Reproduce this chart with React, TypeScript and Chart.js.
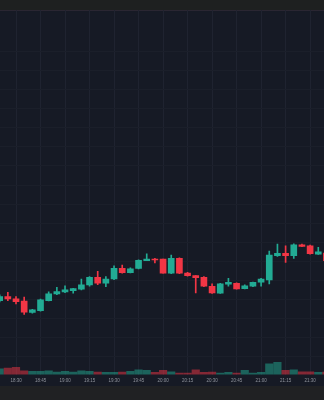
import React, { useEffect, useRef } from 'react';
import { Chart, registerables } from 'chart.js';

Chart.register(...registerables);

// 5-minute candles
const TIMES = [
  '18:20', '18:25', '18:30', '18:35', '18:40', '18:45', '18:50', '18:55',
  '19:00', '19:05', '19:10', '19:15', '19:20', '19:25', '19:30', '19:35',
  '19:40', '19:45', '19:50', '19:55', '20:00', '20:05', '20:10', '20:15',
  '20:20', '20:25', '20:30', '20:35', '20:40', '20:45', '20:50', '20:55',
  '21:00', '21:05', '21:10', '21:15', '21:20', '21:25', '21:30', '21:35', '21:40',
];
const OPEN = [
  98.3, 102.3, 100, 97.7, 86.3, 88.3, 98.3, 105,
  107, 108.3, 109.7, 114, 121.7, 115.7, 120, 130.7,
  126.3, 130.7, 138.3, 140, 140, 125.7, 140.7, 126,
  123.3, 121.7, 112.7, 105.7, 114.7, 115.7, 110.3, 112.7,
  116.7, 119, 143.3, 145.7, 143.3, 154.3, 153.3, 145, 146,
];
const HIGH = [
  104, 106.7, 102.3, 101.7, 89.5, 99.7, 107, 111.7,
  113, 110.7, 120, 122.3, 127.7, 122.3, 133.3, 134,
  131.3, 139.3, 145.3, 140.7, 140, 144, 141.3, 126.7,
  123.3, 122.3, 115, 115.5, 120.7, 116, 114, 117,
  120.7, 148, 155, 153.3, 155.3, 155, 154, 151.7, 147,
];
const LOW = [
  97, 98.3, 95, 84.3, 85.7, 87.7, 98, 104.3,
  106.3, 105.7, 109, 112.7, 114.3, 112.3, 119.3, 125.7,
  126, 130, 138.3, 136, 125.7, 125.3, 125.3, 122.7,
  106, 112.3, 105.5, 105.5, 112.7, 109.7, 110, 112.3,
  112.7, 115, 142.7, 136.7, 140.7, 152.3, 145, 144.7, 138,
];
const CLOSE = [
  102.3, 100, 97.3, 86.7, 89, 99, 105, 107.3,
  109, 110.3, 114, 121.7, 115.7, 120, 130.7, 126.3,
  130.3, 138.7, 140, 139, 125.7, 140.7, 125.7, 123.3,
  121.3, 112.7, 106, 115, 116.7, 110, 113, 116.7,
  120, 144, 145.7, 143.3, 154.3, 152.7, 145.3, 147.3, 138.3,
];
const VOLUME = [
  5.8, 6.5, 7.2, 3.8, 3.2, 3.2, 3.8, 2.5,
  3.2, 2.5, 3.8, 3.2, 2.5, 2.2, 2.2, 2.5,
  3.2, 4.8, 4.2, 2.2, 4.2, 2.8, 1.5, 1.5,
  4.8, 2.2, 2.5, 1.5, 2.2, 1.5, 4.2, 1.5,
  2.2, 10.8, 12.2, 4.2, 4.8, 2.8, 2.8, 2.2, 2.5,
];
const TIME_TICKS = [
  '18:30', '18:45', '19:00', '19:15', '19:30', '19:45', '20:00',
  '20:15', '20:30', '20:45', '21:00', '21:15', '21:30',
];
const PRICE_GRID = [348, 329, 310, 291, 272, 253, 234, 214, 195, 176, 157, 138, 118, 99, 80, 61, 42];

const VIEW_START = '18:20';
const VIEW_END = '21:38';

const UP = '#22ab94';
const DOWN = '#f23645';
const UP_VOL = 'rgba(34,171,148,0.5)';
const DOWN_VOL = 'rgba(242,54,69,0.5)';

const toMin = (s: string) => {
  const [h, m] = s.split(':').map(Number);
  return h * 60 + m;
};
const fmt = (v: number) => {
  const h = Math.floor(v / 60);
  const m = Math.round(v - h * 60);
  return `${h}:${String(m).padStart(2, '0')}`;
};

const bgPlugin = {
  id: 'bgBands',
  beforeDraw(chart: any) {
    const { ctx, width, height, chartArea } = chart;
    const xs = chart.scales.x;
    ctx.save();
    ctx.fillStyle = '#161a25';
    ctx.fillRect(0, 0, width, height);
    ctx.fillStyle = '#1e2020';
    ctx.fillRect(0, 0, width, chartArea.top);
    ctx.fillStyle = '#2a2632';
    ctx.fillRect(0, chartArea.top, width, 1);
    ctx.fillStyle = '#202123';
    ctx.fillRect(0, xs.bottom, width, height - xs.bottom);
    ctx.restore();
  },
};

export default function App() {
  const ref = useRef<HTMLCanvasElement | null>(null);

  useEffect(() => {
    document.body.style.margin = '0';
    const canvas = ref.current;
    if (!canvas) return;
    const xs = TIMES.map(toMin);
    const up = OPEN.map((o, i) => CLOSE[i] >= o);
    const chart = new Chart(canvas, {
      type: 'bar',
      data: {
        datasets: [
          {
            label: 'body',
            data: xs.map((x, i) => ({ x, y: [OPEN[i], CLOSE[i]] })) as any,
            backgroundColor: up.map((u) => (u ? UP : DOWN)),
            barThickness: 6,
            grouped: false,
            borderWidth: 0,
            minBarLength: 1,
          },
          {
            label: 'wick',
            data: xs.map((x, i) => ({ x, y: [LOW[i], HIGH[i]] })) as any,
            backgroundColor: up.map((u) => (u ? UP : DOWN)),
            barThickness: 1,
            grouped: false,
            borderWidth: 0,
          },
          {
            label: 'volume',
            data: xs.map((x, i) => ({ x, y: VOLUME[i] })) as any,
            backgroundColor: up.map((u) => (u ? UP_VOL : DOWN_VOL)),
            barThickness: 7.5,
            grouped: false,
            borderWidth: 0,
            yAxisID: 'y2',
          },
        ],
      },
      options: {
        responsive: false,
        animation: false,
        devicePixelRatio: 1,
        layout: { padding: { top: 10, bottom: 14, left: 0, right: 0 } },
        plugins: { legend: { display: false }, tooltip: { enabled: false } },
        scales: {
          x: {
            type: 'linear',
            offset: false,
            min: toMin(VIEW_START) + 0.2,
            max: toMin(VIEW_END) + 0.5,
            afterBuildTicks: (s: any) => {
              s.ticks = TIME_TICKS.map((t) => ({ value: toMin(t) }));
            },
            ticks: {
              callback: (v: any) => fmt(Number(v)),
              color: '#8f939c',
              font: { family: 'Liberation Sans', size: 4.5 },
              padding: 3,
              maxRotation: 0,
              autoSkip: false,
            },
            grid: { color: '#1f2330', drawTicks: false, lineWidth: 1, offset: false },
            border: { display: false },
          },
          y: {
            min: 24,
            max: 390,
            afterBuildTicks: (s: any) => {
              s.ticks = PRICE_GRID.map((v) => ({ value: v }));
            },
            ticks: { display: false },
            grid: { color: '#1b1f2a', drawTicks: false },
            border: { display: false },
          },
          y2: {
            display: false,
            min: 0,
            max: 366,
          },
        },
      },
      plugins: [bgPlugin],
    } as any);
    return () => chart.destroy();
  }, []);

  return <canvas ref={ref} width={324} height={400} style={{ display: 'block' }} />;
}
